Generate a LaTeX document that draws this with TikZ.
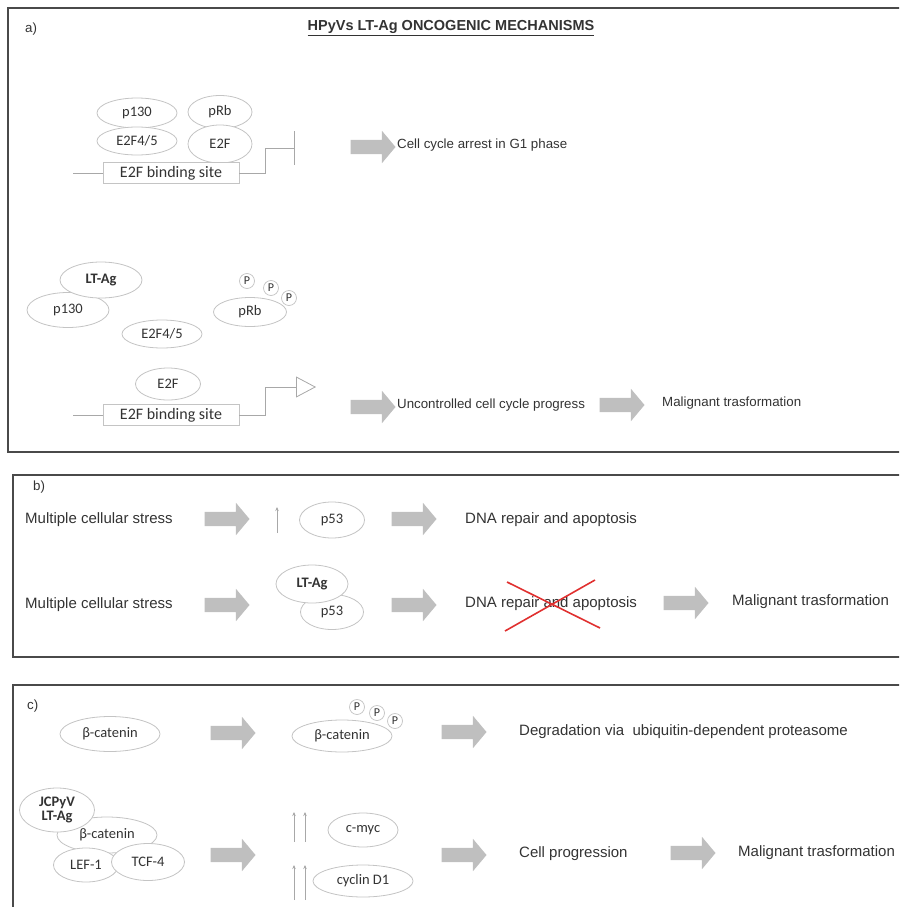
\documentclass[tikz,border=0pt]{standalone}
\usepackage{fontspec}
\setmainfont{Liberation Sans}
\newfontfamily\calibri{Carlito}
\usetikzlibrary{shapes.geometric}
\usetikzlibrary{shapes.arrows}
\usetikzlibrary{arrows.meta}
\definecolor{ellgray}{HTML}{C4C4C4}
\definecolor{arrowgray}{HTML}{BFBFBF}
\definecolor{dnagray}{HTML}{A8A8A8}
\definecolor{txtgray}{HTML}{333333}
\definecolor{framegray}{HTML}{4A4A4A}
\definecolor{crossred}{HTML}{E0302F}

\begin{document}
\begin{tikzpicture}[x=1pt, y=-1pt]
\tikzset{prot/.style 2 args = {ellipse, draw=ellgray, fill=white, line width=.8pt, inner sep=0pt, minimum width=#1, minimum height=#2, text=txtgray, font=\calibri\fontsize{14.5}{14}\selectfont}}
\tikzset{bold/.style = {font=\calibri\bfseries\fontsize{14.5}{14}\selectfont}}
\tikzset{phos/.style = {circle, draw=ellgray, fill=white, line width=.7pt, inner sep=0pt, minimum size=15pt, text=txtgray, font=\calibri\fontsize{12}{12}\selectfont}}
\tikzset{site/.style = {rectangle, draw=ellgray, fill=white, line width=.8pt, inner sep=0pt, minimum width=136pt, minimum height=21pt, text=txtgray, font=\calibri\fontsize{16}{16}\selectfont}}
\tikzset{fat/.style = {single arrow, fill=arrowgray, draw=none, inner sep=0pt, text height=7pt, text depth=7pt, minimum height=45pt, single arrow head extend=9pt, single arrow tip angle=100}}
\tikzset{dna/.style = {draw=dnagray, line width=.8pt}}
\tikzset{up/.style = {draw=dnagray, line width=1pt, -{Stealth[length=4pt, width=3.5pt]}}}
\tikzset{label/.style = {anchor=west, inner sep=0pt, text=txtgray}}
\tikzset{small/.style = {font=\fontsize{13.3}{15}\selectfont}}
\tikzset{big/.style = {font=\fontsize{15}{17}\selectfont}}
\tikzset{panel/.style = {draw=framegray, line width=2.5pt}}

\useasboundingbox (0,0) rectangle (899,907);
\clip (0,0) rectangle (899,907);

\draw[panel] (8,8) rectangle (915,452);
\draw[panel] (13,475) rectangle (915,657);
\draw[panel] (13,685) rectangle (915,930);

\foreach \x/\y [count=\i] in {370/147, 370/407, 619/405, 224/519, 411/519, 224/605, 411/605, 683/603, 230/733, 461/732, 230/855, 461/855, 690/853}
   {\node[fat] (arr\i) at (\x,\y) {};}

% a)
\node[label, small] (a) at (25,29) {a)};
\node[text=txtgray, font=\bfseries\fontsize{14.5}{16}\selectfont] (title) at (451,28) {\underline{HPyVs LT-Ag ONCOGENIC MECHANISMS}};

\node[prot={80pt}{30pt}] (p130) at (137,113) {p130};
\node[prot={80pt}{28pt}] (e2f45) at (137,141) {E2F4/5};
\node[prot={64pt}{33pt}] (prb) at (220,112) {pRb};
\node[prot={64pt}{38pt}] (e2f) at (220,144) {E2F};
\node[site] (bs) at (171,173) {E2F binding site};
\coordinate (bsin) at (73,173);
\coordinate (stop) at (295,148);
\draw[dna] (bsin) -- (bs.west);
\draw[dna, -{Bar[width=34pt, line width=.8pt]}] (bs.east) -| (265,148) -- (stop);
\node[label, small] (arrest) at (397,145) {Cell cycle arrest in G1 phase};

\node[prot={82pt}{35pt}] (p130b) at (68,310) {p130};
\node[prot={82pt}{36pt}, bold] (ltag) at (101,280) {LT-Ag};
\node[prot={80pt}{28pt}] (e2f45b) at (162,334) {E2F4/5};
\node[prot={73pt}{29pt}] (prbb) at (250,312) {pRb};
\foreach \x/\y [count=\i] in {247/281, 271/288, 289/298}
   {\node[phos] (pa\i) at (\x,\y) {P};}
\node[prot={65pt}{32pt}] (e2fb) at (168,384) {E2F};
\node[site] (bsb) at (171,415) {E2F binding site};
\coordinate (bsbin) at (73,415);
\coordinate (go) at (316,387);
\draw[dna] (bsbin) -- (bsb.west);
\draw[dna, -{Triangle[open, length=20pt, width=21pt, line width=.8pt]}] (bsb.east) -| (265,387) -- (go);
\node[label, small] (progress) at (397,405) {Uncontrolled cell cycle progress};
\node[label, small] (mala) at (662,403) {Malignant trasformation};

% b)
\node[label, small] (b) at (33,487) {b)};
\node[label, big] (stress1) at (25,520) {Multiple cellular stress};
\coordinate (upb0) at (277,533);
\coordinate (upb1) at (277,507);
\draw[up] (upb0) -- (upb1);
\node[prot={65pt}{36pt}] (p53a) at (332,520) {p53};
\node[label, big] (dna1) at (465,520) {DNA repair and apoptosis};

\node[label, big] (stress2) at (25,605) {Multiple cellular stress};
\node[prot={63pt}{35pt}] (p53b) at (332,612) {p53};
\node[prot={72pt}{38pt}, bold] (ltagb) at (312,584) {LT-Ag};
\node[label, big] (dna2) at (465,604) {DNA repair and apoptosis};
\draw[crossred, line width=1.6pt] (507,582) -- (600,628);
\draw[crossred, line width=1.6pt] (595,580) -- (505,631);
\node[label, big] (malb) at (732,602) {Malignant trasformation};

% c)
\node[label, small] (c) at (27,706) {c)};
\node[prot={100pt}{35pt}] (bcat1) at (110,734) {β-catenin};
\node[prot={100pt}{32pt}] (bcat2) at (342,736) {β-catenin};
\foreach \x/\y [count=\i] in {357/707, 377/713, 395/721}
   {\node[phos] (pc\i) at (\x,\y) {P};}
\node[label, big] (degr) at (519,732) {Degradation via\ \ ubiquitin-dependent proteasome};

\node[prot={100pt}{36pt}] (bcat3) at (107,835) {β-catenin};
\node[prot={75pt}{44pt}, bold, align=center] (jcv) at (57,810) {JCPyV\\LT-Ag};
\node[prot={65pt}{34pt}] (lef) at (86,865) {LEF-1};
\node[prot={73pt}{37pt}] (tcf) at (148,862) {TCF-4};
\foreach \x/\ya/\yb [count=\i] in {294/842/812, 305/842/812, 294/900/865, 305/900/865}
   {\coordinate (upc\i) at (\x,\ya);
    \coordinate (topc\i) at (\x,\yb);
    \draw[up] (upc\i) -- (topc\i);}
\node[prot={70pt}{34pt}] (cmyc) at (363,830) {c-myc};
\node[prot={100pt}{32pt}] (ccnd) at (363,881) {cyclin D1};
\node[label, big] (cellprog) at (519,854) {Cell progression};
\node[label, big] (malc) at (738,853) {Malignant trasformation};

\end{tikzpicture}
\end{document}
